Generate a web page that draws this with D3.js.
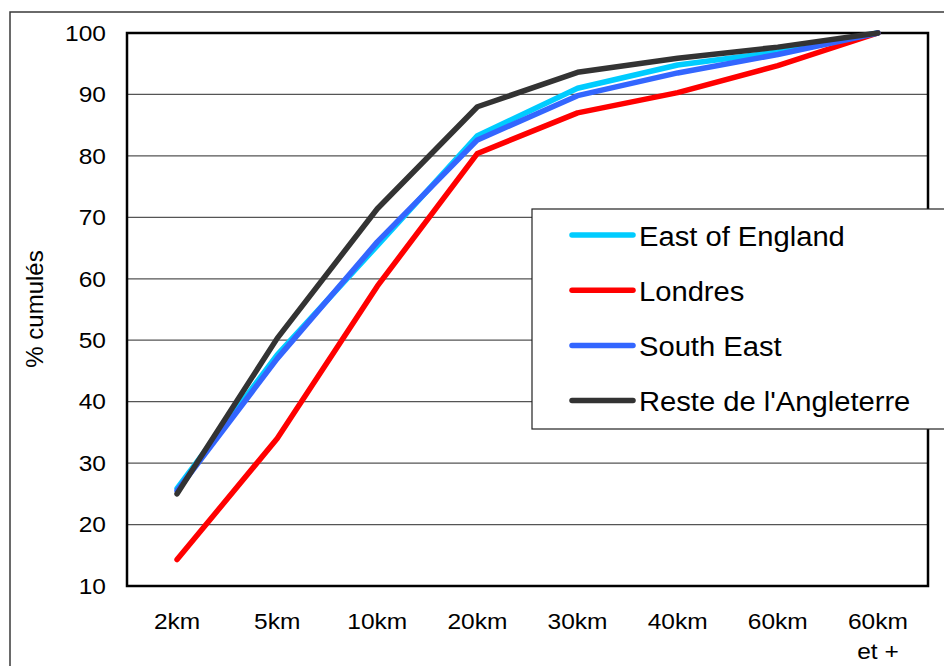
<!DOCTYPE html>
<html><head><meta charset="utf-8">
<script src="https://cdn.jsdelivr.net/npm/d3@7"></script>
<style>
body{margin:0;background:#fff;}
text{font-family:"Liberation Sans",Arial,sans-serif;fill:#000;}
</style></head><body>
<svg id="c" width="944" height="666"></svg>
<script>
const categories = ["2km","5km","10km","20km","30km","40km","60km","60km\net +"];
const eastOfEngland = [25.9, 47.6, 65.4, 83.3, 91.0, 94.8, 96.9, 100];
const londres = [14.3, 34.0, 58.8, 80.4, 87.0, 90.3, 94.7, 100];
const southEast = [25.5, 47.0, 66.0, 82.6, 89.8, 93.5, 96.5, 100];
const resteAngleterre = [25.0, 50.3, 71.4, 88.0, 93.6, 95.9, 97.7, 100];
const seriesNames = ["East of England","Londres","South East","Reste de l'Angleterre"];
const seriesColors = ["#00CCFF","#FF0000","#3366FF","#333333"];
const yTicks = [10,20,30,40,50,60,70,80,90,100];
const yTitle = "% cumulés";

const series = [eastOfEngland, londres, southEast, resteAngleterre];
const svg = d3.select("#c");
const L = 127, R = 928, T = 33, B = 586;
const x = d3.scalePoint().domain(categories).range([L, R]).padding(0.5);
const y = d3.scaleLinear().domain([10,100]).range([B, T]);

// outer frame
svg.append("rect").attr("x",10).attr("y",12).attr("width",960).attr("height",700)
  .attr("fill","none").attr("stroke","#3a3a3a").attr("stroke-width",1.5);

// gridlines
svg.append("g").selectAll("line").data(yTicks.filter(d=>d>10 && d<100)).join("line")
  .attr("x1",L).attr("x2",R).attr("y1",d=>y(d)).attr("y2",d=>y(d))
  .attr("stroke","#555").attr("stroke-width",1.2);

// plot border
svg.append("rect").attr("x",L).attr("y",T).attr("width",R-L).attr("height",B-T)
  .attr("fill","none").attr("stroke","#000").attr("stroke-width",2.5);

// y tick labels
svg.append("g").selectAll("text").data(yTicks).join("text")
  .attr("transform",d=>`translate(106,${y(d)}) scale(1.14,1)`)
  .attr("text-anchor","end").attr("dy","0.36em")
  .style("font-size","21.5px").text(d=>d);

// x labels
const xl = svg.append("g").selectAll("text").data(categories).join("text")
  .attr("transform",d=>`translate(${x(d)},629) scale(1.14,1)`)
  .attr("text-anchor","middle").style("font-size","21.5px");
xl.each(function(d){
  const parts = d.split("\n");
  const t = d3.select(this);
  parts.forEach((p,i)=>t.append("tspan").attr("x",0).attr("dy",i===0?0:"1.38em").text(p));
});

// y title
svg.append("text").attr("transform","translate(43,309) rotate(-90)")
  .attr("text-anchor","middle").style("font-size","24px").text(yTitle);

// lines
const line = d3.line().x((d,i)=>x(categories[i])).y(d=>y(d));
svg.append("g").selectAll("path").data(series).join("path")
  .attr("d",d=>line(d)).attr("fill","none")
  .attr("stroke",(d,i)=>seriesColors[i]).attr("stroke-width",5.5)
  .attr("stroke-linejoin","round").attr("stroke-linecap","round");

// legend
const lg = svg.append("g");
lg.append("rect").attr("x",532).attr("y",209).attr("width",430).attr("height",220)
  .attr("fill","#fff").attr("stroke","#222").attr("stroke-width",1.2);
const items = lg.selectAll("g.item").data(seriesNames).join("g")
  .attr("transform",(d,i)=>`translate(0,${235+i*55.2})`);
items.append("line").attr("x1",572).attr("x2",633).attr("y1",0).attr("y2",0)
  .attr("stroke",(d,i)=>seriesColors[i]).attr("stroke-width",5.5).attr("stroke-linecap","round");
items.append("text").attr("transform","translate(639,1) scale(1.08,1)").attr("dy","0.36em")
  .style("font-size","27px").text(d=>d);
</script></body></html>
